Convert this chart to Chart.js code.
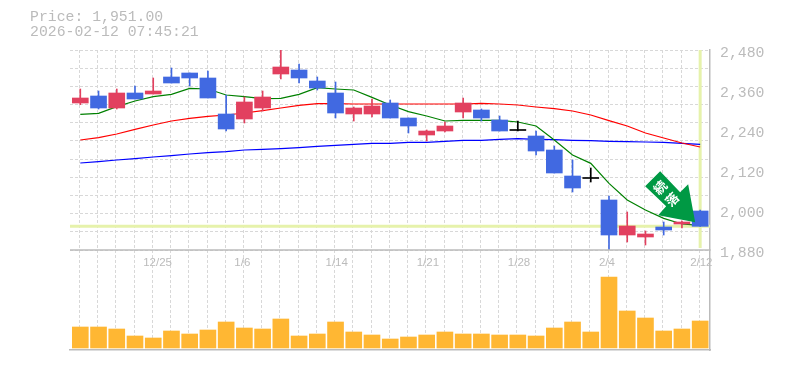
<!DOCTYPE html>
<html lang="ja">
<head>
  <meta charset="UTF-8" />
  <title>Price chart</title>
  <script src="https://cdn.jsdelivr.net/npm/chart.js"></script>
  <style>
    * { margin: 0; padding: 0; }
    html, body { background: #fff; overflow: hidden; }
    #wrap { position: relative; width: 785px; height: 370px; }
    .head {
      position: absolute; left: 30px;
      font: 14.8px 'Liberation Mono', monospace;
      line-height: 15px; color: #bbb; white-space: pre;
    }
  </style>
</head>
<body>
  <div id="wrap">
    <div class="head" style="top:10px">Price: 1,951.00</div>
    <div class="head" style="top:25px">2026-02-12 07:45:21</div>
    <canvas id="chart" width="785" height="370"></canvas>
  </div>

  <script>
    const opens  = [2321,2342,2306,2351,2348,2399,2411,2396,2288,2273,2306,2408,2420,2387,2351,2288,2288,2321,2276,2225,2237,2294,2300,2270,2240,2222,2180,2102,2096,2030,1925,1919,1949,1958,1997];
    const closes = [2336,2306,2351,2333,2357,2381,2396,2336,2243,2324,2339,2429,2396,2366,2291,2306,2312,2276,2252,2237,2252,2321,2276,2237,2240,2177,2111,2066,2096,1925,1952,1928,1940,1964,1951];
    const highs  = [2363,2357,2363,2372,2396,2426,2411,2417,2345,2339,2357,2480,2438,2399,2384,2309,2333,2330,2276,2240,2264,2336,2303,2282,2267,2237,2192,2150,2126,2042,1994,1937,1964,1967,2000];
    const lows   = [2316,2303,2303,2333,2348,2381,2372,2336,2237,2261,2297,2393,2381,2360,2276,2267,2279,2276,2231,2207,2234,2276,2267,2237,2237,2165,2111,2054,2084,1880,1904,1895,1925,1946,1951];
    const maShort = [2287,2290,2310,2327,2340,2347,2365,2363,2345,2340,2334,2335,2347,2367,2363,2360,2338,2315,2295,2282,2267,2269,2269,2269,2264,2252,2210,2165,2140,2080,2030,2000,1975,1958,1954];
    const maMid   = [2210,2217,2228,2242,2255,2267,2275,2281,2285,2291,2298,2306,2314,2319,2319,2318,2318,2318,2318,2318,2318,2318,2320,2318,2315,2309,2304,2297,2285,2268,2252,2231,2216,2201,2189];
    const maLong  = [2141,2145,2150,2154,2159,2163,2168,2172,2175,2180,2182,2184,2187,2191,2194,2197,2200,2200,2203,2203,2206,2209,2209,2212,2214,2212,2211,2209,2208,2206,2205,2204,2203,2200,2197];
    const volumes = [21,21,19,12,10,17,14,18,26,20,19,29,12,14,26,16,13,9,11,13,16,14,14,13,13,12,20,26,16,71,37,30,17,19,27];
    const dateTicks = ['12/25','1/6','1/14','1/21','1/28','2/4','2/12'];
    const priceTicks = [2480,2360,2240,2120,2000,1880];
    const lastPrice = 1951;

    const RED = '#e2405f', BLUE = '#4169e1', BLACK = '#000', GRID = '#d8d8d8', FRAME = '#bbb', MARK = '#e6f2ab';
    const last = opens.length - 1;
    const xMin = -0.565, xMax = 34.54;
    const gridOffset = -0.55;

    function candleColor(i) {
      if (opens[i] === closes[i]) return BLACK;
      return closes[i] > opens[i] ? RED : BLUE;
    }
    // a doji has no height, so give it a price unit span to stay visible
    function bodyRange(i) {
      return opens[i] === closes[i] ? [opens[i] - 1.5, opens[i] + 1.5] : [opens[i], closes[i]];
    }

    const gridValues = [];
    for (let n = 0; n <= 11; n++) gridValues.push(2480 - n * 600 / 11);

    // frame line between the two panels, and the arrow with its text
    const panelPlugin = {
      id: 'panels',
      afterDatasetsDraw(chart) {
        const { ctx, scales } = chart;
        const y = scales.yVol.top;
        ctx.save();
        ctx.strokeStyle = FRAME;
        ctx.lineWidth = 1.5;
        ctx.beginPath();
        ctx.moveTo(scales.x.left, y);
        ctx.lineTo(scales.x.right, y);
        ctx.stroke();

        // arrow tip sits on the last bar
        const tipX = scales.x.getPixelForValue(last) - 5;
        const tipY = scales.y.getPixelForValue(lastPrice) - 4;
        ctx.translate(tipX, tipY);
        ctx.fillStyle = '#009944';
        ctx.beginPath();
        ctx.moveTo(0, 0);
        ctx.lineTo(-37, -7);
        ctx.lineTo(-29, -16);
        ctx.lineTo(-50, -36);
        ctx.lineTo(-35, -51);
        ctx.lineTo(-15, -30);
        ctx.lineTo(-7, -38);
        ctx.closePath();
        ctx.fill();

        ctx.fillStyle = '#fff';
        ctx.font = 'bold 13px "Noto Sans CJK JP"';
        ctx.textAlign = 'center';
        ctx.textBaseline = 'middle';
        [['続', -35, -35], ['落', -23, -23]].forEach(([ch, dx, dy]) => {
          ctx.save();
          ctx.translate(dx, dy);
          ctx.rotate(-Math.PI / 4);
          ctx.fillText(ch, 0, 0);
          ctx.restore();
        });
        ctx.restore();
      }
    };

    new Chart(document.getElementById('chart'), {
      data: {
        datasets: [
          { type: 'bar', label: 'volume', yAxisID: 'yVol', order: 9, grouped: false, barThickness: 16,
            backgroundColor: '#ffb733', data: volumes.map((v, i) => ({ x: i, y: v })) },
          { type: 'line', label: 'last', order: 8, borderColor: MARK, borderWidth: 3, pointRadius: 0,
            data: [{ x: xMin, y: lastPrice }, { x: xMax, y: lastPrice }] },
          { type: 'line', label: 'today', order: 8, borderColor: MARK, borderWidth: 3, pointRadius: 0,
            data: [{ x: last, y: priceTicks[0] }, { x: last, y: priceTicks[5] + 6 }] },
          { type: 'line', label: 'ma long', order: 7, borderColor: '#0000ff', borderWidth: 1.2, pointRadius: 0,
            data: maLong.map((v, i) => ({ x: i, y: v })) },
          { type: 'line', label: 'ma mid', order: 6, borderColor: '#ff0000', borderWidth: 1.2, pointRadius: 0,
            data: maMid.map((v, i) => ({ x: i, y: v })) },
          { type: 'line', label: 'ma short', order: 5, borderColor: '#008000', borderWidth: 1.2, pointRadius: 0,
            data: maShort.map((v, i) => ({ x: i, y: v })) },
          { type: 'bar', label: 'wick', order: 4, grouped: false, barThickness: 1,
            backgroundColor: opens.map((_, i) => candleColor(i)),
            data: opens.map((_, i) => ({ x: i, y: [lows[i], highs[i]] })) },
          { type: 'bar', label: 'body', order: 3, grouped: false, barThickness: 16,
            backgroundColor: opens.map((_, i) => candleColor(i)),
            data: opens.map((_, i) => ({ x: i, y: bodyRange(i) })) }
        ]
      },
      options: {
        responsive: false,
        animation: false,
        events: [],
        layout: { padding: { left: 70, top: 50 } },
        plugins: { legend: { display: false }, tooltip: { enabled: false } },
        scales: {
          x: {
            type: 'linear', min: xMin, max: xMax, offset: false,
            afterBuildTicks(scale) {
              const t = [];
              for (let n = 0; n <= 35; n++) t.push({ value: gridOffset + n });
              scale.ticks = t;
            },
            afterFit(scale) {
              scale.height = 20;
              scale.paddingLeft = 0;
              scale.paddingRight = 0;
            },
            grid: { color: GRID, drawTicks: false },
            border: { dash: [3, 2], color: FRAME, width: 1.5 },
            ticks: {
              autoSkip: false, maxRotation: 0, minRotation: 0, align: 'start', mirror: true, padding: 80,
              color: '#bbb', font: { family: 'Liberation Sans', size: 11.5 },
              callback(value, index) {
                const k = (index - 4) / 5;
                return Number.isInteger(k) && dateTicks[k] ? dateTicks[k] : '';
              }
            }
          },
          y: {
            position: 'right', stack: 'panels', stackWeight: 2, min: 1880, max: 2480,
            afterBuildTicks(scale) {
              scale.ticks = gridValues.concat(priceTicks.slice(1, 5)).map(v => ({ value: v }));
            },
            afterFit(scale) { scale.width = 75; },
            grid: {
              drawTicks: false,
              color(ctx) { return ctx.tick && priceTicks.slice(1, 5).includes(ctx.tick.value) ? 'rgba(0,0,0,0)' : GRID; }
            },
            border: { dash: [3, 2], color: FRAME, width: 1.5 },
            ticks: {
              autoSkip: false, padding: 10, labelOffset: 3, color: '#bbb',
              font: { family: 'Liberation Mono', size: 14.8 },
              callback(value) {
                return priceTicks.includes(value) ? value.toLocaleString('en-US') : '';
              }
            }
          },
          yVol: {
            position: 'right', stack: 'panels', stackWeight: 1, min: -2, max: 98,
            afterFit(scale) { scale.width = 75; },
            grid: { display: false },
            border: { color: FRAME, width: 1.5 },
            ticks: { display: false }
          }
        }
      },
      plugins: [panelPlugin]
    });
  </script>
</body>
</html>
